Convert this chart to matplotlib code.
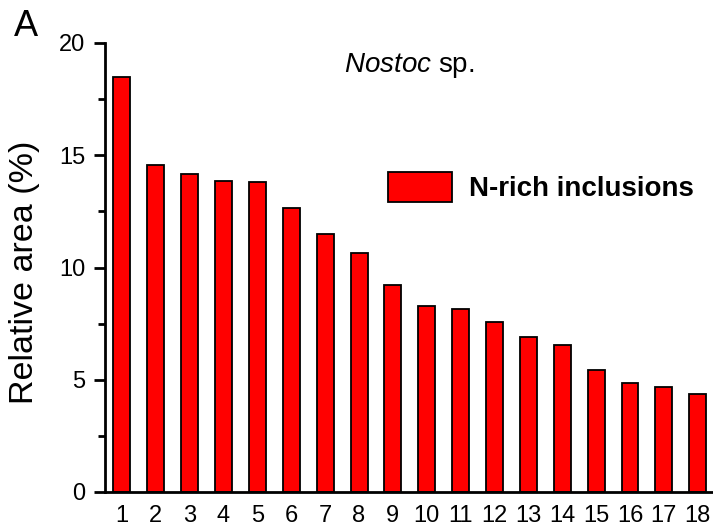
import matplotlib
matplotlib.use("Agg")
import matplotlib.pyplot as plt
from matplotlib.ticker import MultipleLocator

plt.rcParams["font.family"] = ["Liberation Sans", "DejaVu Sans"]
plt.rcParams["mathtext.fontset"] = "custom"
plt.rcParams["mathtext.it"] = "Liberation Sans:italic"
plt.rcParams["mathtext.rm"] = "Liberation Sans"

# relative area per cell
cells = list(range(1, 19))
area = [18.47, 14.57, 14.17, 13.85, 13.8, 12.65, 11.5, 10.65, 9.22,
        8.28, 8.15, 7.57, 6.9, 6.55, 5.43, 4.87, 4.69, 4.37]

fig = plt.figure(figsize=(7.13, 5.31), dpi=100)
ax = fig.add_axes([105 / 713, 1 - 492 / 531, 608 / 713, 449 / 531])

ax.bar(cells, area, width=0.5, color="#ff0000", edgecolor="black",
       linewidth=1.3, label="N-rich inclusions")

ax.set_xlim(0.5, 18.45)
ax.set_ylim(0, 20)
ax.set_xticks(cells)
ax.yaxis.set_major_locator(MultipleLocator(5))
ax.yaxis.set_minor_locator(MultipleLocator(2.5))

for side in ["top", "right"]:
    ax.spines[side].set_visible(False)
ax.spines["left"].set_linewidth(2)
ax.spines["bottom"].set_linewidth(2)

ax.tick_params(axis="y", which="major", direction="out", length=8, width=2,
               labelsize=17, pad=6)
ax.tick_params(axis="y", which="minor", direction="out", length=5, width=2)
ax.tick_params(axis="x", length=0, labelsize=17, pad=9)

# y label placed by hand
fig.text(25 / 713, 1 - 272 / 531, "Relative area (%)", fontsize=24.5,
         rotation=90, ha="center", va="center")

ax.text(0.5, 0.95, r"$\it{Nostoc}$ sp.", transform=ax.transAxes,
        ha="center", va="center", fontsize=20)
fig.text(26 / 713, 1 - 26 / 531, "A", fontsize=26, ha="center", va="center")

leg = ax.legend(loc="upper left", bbox_to_anchor=(0.425, 0.768), frameon=False,
                prop={"weight": "bold", "size": 20}, handlelength=2.3,
                handleheight=1.25, handletextpad=0.6)

fig.savefig("out.png", dpi=100)
